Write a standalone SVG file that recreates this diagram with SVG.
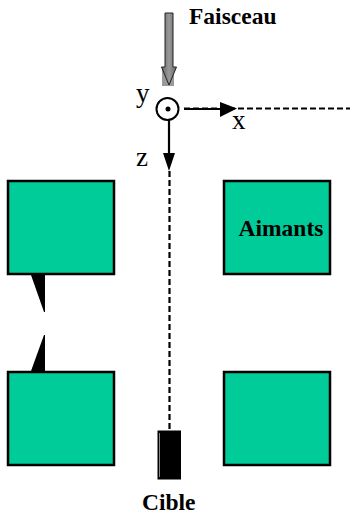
<svg xmlns="http://www.w3.org/2000/svg" width="350" height="515" viewBox="0 0 350 515">
<defs>
<linearGradient id="beam" x1="0" x2="1" y1="0" y2="0"><stop offset="0" stop-color="#666"/><stop offset="0.5" stop-color="#999"/><stop offset="1" stop-color="#666"/></linearGradient>
</defs>
<style>
.m{fill:#00cc99;stroke:#000;stroke-width:2.500}
.b{font-family:"Liberation Serif",serif;font-weight:bold;fill:#000;font-size:23.500px}
.r{font-family:"Liberation Serif",serif;fill:#000;font-size:27px}
.d{fill:none;stroke:#000;stroke-width:2.200;stroke-dasharray:6 3}
.l{fill:none;stroke:#000;stroke-width:2.200}
</style>
<rect width="350" height="515" fill="#fff"/>
<g id="connectors">
<line class="d" x1="184" y1="108.500" x2="350" y2="108.500"/>
<line class="l" x1="184" y1="109" x2="222" y2="109"/>
<polygon points="220,102 237,108.500 220,117"/>
<line class="l" x1="169" y1="120" x2="169" y2="155"/>
<polygon points="163,153 175,153 169,171"/>
<line class="d" x1="169.500" y1="171" x2="169.500" y2="431"/>
</g>
<g id="faisceau">
<rect x="162" y="67" width="12" height="19" fill="#999"/>
<path d="M165 13H173V67H176.500L169 85L161.500 67H165Z" fill="url(#beam)" stroke="#222" stroke-width="1"/>
<text class="b" x="189" y="24">Faisceau</text>
</g>
<g id="origin">
<circle cx="167.500" cy="109" r="11" fill="#fff" stroke="#000" stroke-width="2"/>
<circle cx="168" cy="109" r="2.500" fill="#000"/>
<text class="r" x="136" y="102">y</text>
<text class="r" x="232" y="129">x</text>
<text class="r" x="136" y="166">z</text>
</g>
<g id="aimant-hg"><rect class="m" x="8" y="181" width="106" height="93"/></g>
<g id="aimant-hd"><rect class="m" x="224" y="181" width="106" height="93"/><text class="b" x="238.500" y="236">Aimants</text></g>
<g id="aimant-bg"><rect class="m" x="8" y="372" width="106" height="93"/></g>
<g id="aimant-bd"><rect class="m" x="224" y="372" width="106" height="93"/></g>
<g id="pointes">
<polygon points="31,275 45,275 45,312 44,312"/>
<polygon points="31,371 45,371 45,335 44,335"/>
</g>
<g id="cible">
<rect x="157.500" y="430.500" width="23.500" height="49" fill="#000"/>
<line x1="159.500" y1="433" x2="159.500" y2="477" stroke="#888" stroke-width="1"/>
<text class="b" x="142" y="510">Cible</text>
</g>
</svg>
